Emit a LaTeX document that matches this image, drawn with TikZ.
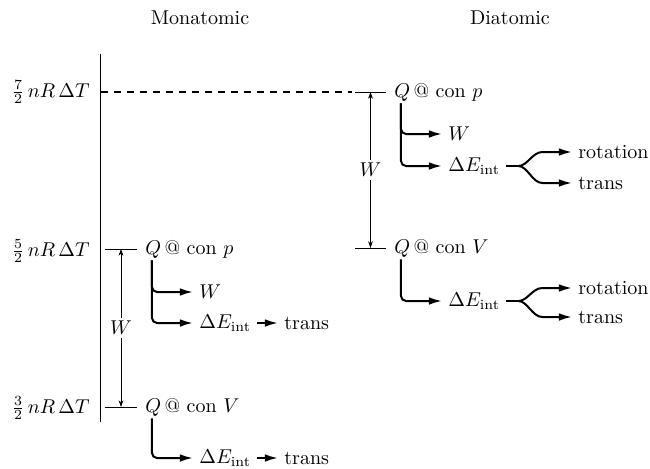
\documentclass[tikz,border=0pt]{standalone}
\usepackage{amsmath,amssymb}
\usetikzlibrary{arrows.meta,positioning}
\tikzset{
  head/.style={inner sep=1pt},
  lvl/.style={anchor=east,inner sep=1pt},
  proc/.style={anchor=west,inner sep=1pt},
  item/.style={anchor=west,inner sep=3pt},
  tick/.style={line width=.5pt},
  axis/.style={line width=.5pt},
  warr/.style={{Stealth[length=3.4pt,width=2.4pt]}-{Stealth[length=3.4pt,width=2.4pt]},line width=.4pt},
  wlbl/.style={fill=white,inner sep=1.5pt},
  branch/.style={line width=1pt,rounded corners=2.5pt,-{Latex[length=6.5pt,width=3.8pt]}},
  fork/.style={line width=1pt,-{Latex[length=6.5pt,width=3.8pt]}},
  stub/.style={line width=1pt},
}

\begin{document}
\begin{tikzpicture}[x=0.5pt,y=-0.5pt]
  \useasboundingbox (0,0) rectangle (650,468);
  \node[head] (mono) at (200,18) {Monatomic};
  \node[head] (dia) at (510,18) {Diatomic};
  % energy axis
  \draw[axis] (101,54) -- (101,422);
  \node[lvl] (l7) at (92,92) {$\frac{7}{2}\,nR\,\Delta T$};
  \node[lvl] (l5) at (92,251) {$\frac{5}{2}\,nR\,\Delta T$};
  \node[lvl] (l3) at (92,408) {$\frac{3}{2}\,nR\,\Delta T$};
  \draw[line width=.6pt,dash pattern=on 3.5pt off 3pt] (101,92) -- (352,92);
  % diatomic
  \draw[tick] (355,92) -- coordinate[pos=.5] (d7) (386,92);
  \draw[tick] (355,248) -- coordinate[pos=.5] (d5) (386,248);
  \draw[warr] (d7) -- node[wlbl] {$W$} (d5);
  \node[proc] (dp) at (392,92) {$Q$\,@ con $p$};
  \node[item] (dW) at (442,134) {$W$};
  \node[item] (dE) at (442,166) {$\Delta E_{\text{int}}$};
  \draw[branch] ([xshift=4.5pt]dp.south west) |- (dW.west);
  \draw[branch] ([xshift=4.5pt]dp.south west) |- (dE.west);
  \node[item] (dR) at (572,152) {rotation};
  \node[item] (dT) at (572,183) {trans};
  \coordinate (dF) at ([xshift=6pt]dE.east);
  \draw[stub] (dE.east) -- (dF);
  \draw[fork] (dF) .. controls +(9,0) and +(-10,0) .. ++(24,-14) -- (dR.west);
  \draw[fork] (dF) .. controls +(9,0) and +(-10,0) .. ++(24,17) -- (dT.west);
  \node[proc] (dv) at (392,248) {$Q$\,@ con $V$};
  \node[item] (dE2) at (442,301) {$\Delta E_{\text{int}}$};
  \draw[branch] ([xshift=4.5pt]dv.south west) |- (dE2.west);
  \node[item] (dR2) at (572,288) {rotation};
  \node[item] (dT2) at (572,317) {trans};
  \coordinate (dF2) at ([xshift=6pt]dE2.east);
  \draw[stub] (dE2.east) -- (dF2);
  \draw[fork] (dF2) .. controls +(9,0) and +(-10,0) .. ++(24,-13) -- (dR2.west);
  \draw[fork] (dF2) .. controls +(9,0) and +(-10,0) .. ++(24,16) -- (dT2.west);
  % monatomic
  \draw[tick] (105,249) -- coordinate[pos=.5] (m5) (137,249);
  \draw[tick] (105,407) -- coordinate[pos=.5] (m3) (137,407);
  \draw[warr] (m5) -- node[wlbl] {$W$} (m3);
  \node[proc] (mp) at (143,249) {$Q$\,@ con $p$};
  \node[item] (mW) at (193,292) {$W$};
  \node[item] (mE) at (193,323) {$\Delta E_{\text{int}}$};
  \draw[branch] ([xshift=4.5pt]mp.south west) |- (mW.west);
  \draw[branch] ([xshift=4.5pt]mp.south west) |- (mE.west);
  \node[item] (mT) at (278,323) {trans};
  \draw[fork] (mE.east) -- (mT.west);
  \node[proc] (mv) at (143,407) {$Q$\,@ con $V$};
  \node[item] (mE2) at (193,458) {$\Delta E_{\text{int}}$};
  \draw[branch] ([xshift=4.5pt]mv.south west) |- (mE2.west);
  \node[item] (mT2) at (278,458) {trans};
  \draw[fork] (mE2.east) -- (mT2.west);
\end{tikzpicture}
\end{document}
